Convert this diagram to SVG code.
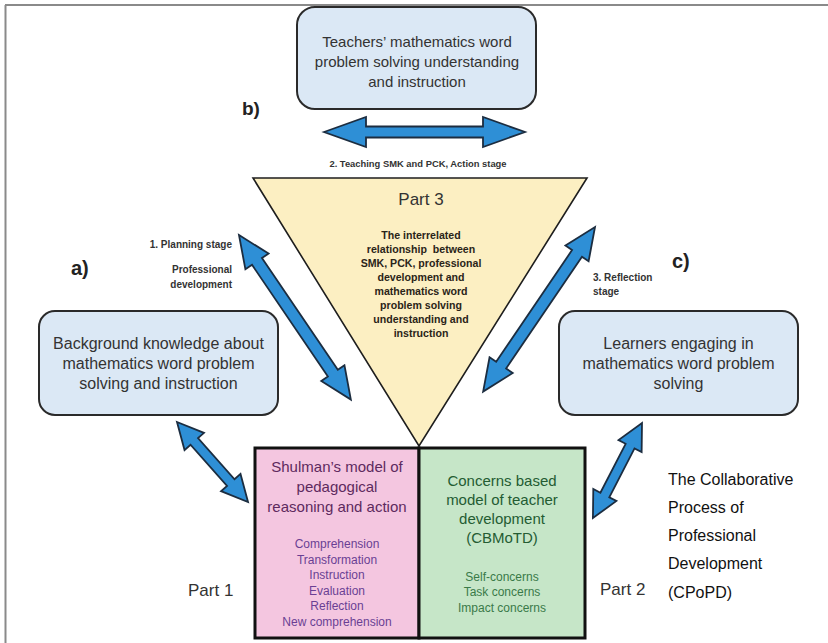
<svg xmlns="http://www.w3.org/2000/svg" width="828" height="643" viewBox="0 0 828 643">
<defs>
<style>
text{font-family:"Liberation Sans",Arial,sans-serif;}
.bx{fill:#dbe8f5;stroke:#2a2a2a;stroke-width:2;}
.bt{font-size:16px;fill:#333;text-anchor:middle;}
.lbl{font-size:10px;font-weight:bold;fill:#333;}
.big{font-size:20px;font-weight:bold;fill:#222;}
.part{font-size:17px;fill:#333;}
.arr{fill:#2e8fd6;stroke:#1c2d40;stroke-width:1.8;stroke-linejoin:miter;}
.tri{font-size:10.6px;font-weight:bold;fill:#2a2418;text-anchor:middle;}
.sh{font-size:15px;fill:#5e2a5e;text-anchor:middle;}
.shl{font-size:12px;fill:#6a3f94;text-anchor:middle;}
.cb{font-size:15px;fill:#245c33;text-anchor:middle;}
.cbl{font-size:12px;fill:#3a7a48;text-anchor:middle;}
.cp{font-size:16px;fill:#111;}
</style>
</defs>
<rect x="0" y="0" width="828" height="643" fill="#fff"/>
<g id="frame" stroke="#8a8a8a" stroke-width="2" fill="none">
<line x1="5" y1="5" x2="828" y2="5"/>
<line x1="5.5" y1="5" x2="5.5" y2="643"/>
</g>

<g id="part3">
<polygon points="253,178 587,178 419,446" fill="#fcefc2" stroke="#1e1e1e" stroke-width="1.6"/>
<text class="part" x="421" y="205" text-anchor="middle">Part 3</text>
<text class="tri" x="421" y="239">The interrelated</text>
<text class="tri" x="421" y="253" xml:space="preserve">relationship  between</text>
<text class="tri" x="421" y="267">SMK, PCK, professional</text>
<text class="tri" x="421" y="281">development and</text>
<text class="tri" x="421" y="295">mathematics word</text>
<text class="tri" x="421" y="309">problem solving</text>
<text class="tri" x="421" y="323">understanding and</text>
<text class="tri" x="421" y="337">instruction</text>
</g>

<g id="teachers">
<rect class="bx" x="297" y="7" width="239" height="102" rx="18"/>
<text class="bt" style="font-size:15px" x="417" y="47">Teachers’ mathematics word</text>
<text class="bt" style="font-size:15px" x="417" y="67">problem solving understanding</text>
<text class="bt" style="font-size:15px" x="417" y="87">and instruction</text>
</g>

<g id="background">
<rect class="bx" x="39" y="311" width="239" height="104" rx="16"/>
<text class="bt" x="158.5" y="349">Background knowledge about</text>
<text class="bt" x="158.5" y="369">mathematics word problem</text>
<text class="bt" x="158.5" y="389">solving and instruction</text>
</g>

<g id="learners">
<rect class="bx" x="559" y="311" width="239" height="104" rx="16"/>
<text class="bt" x="678.5" y="349">Learners engaging in</text>
<text class="bt" x="678.5" y="369">mathematics word problem</text>
<text class="bt" x="678.5" y="389">solving</text>
</g>

<g id="shulman">
<rect x="255" y="448" width="164" height="190" fill="#f4c6e0" stroke="#111" stroke-width="3"/>
<text class="sh" x="337" y="472">Shulman’s model of</text>
<text class="sh" x="337" y="492">pedagogical</text>
<text class="sh" x="337" y="512">reasoning and action</text>
<text class="shl" x="337" y="548">Comprehension</text>
<text class="shl" x="337" y="563.5">Transformation</text>
<text class="shl" x="337" y="579">Instruction</text>
<text class="shl" x="337" y="594.5">Evaluation</text>
<text class="shl" x="337" y="610">Reflection</text>
<text class="shl" x="337" y="625.5">New comprehension</text>
</g>

<g id="concerns">
<rect x="419" y="448" width="166" height="190" fill="#c6e6c8" stroke="#111" stroke-width="3"/>
<text class="cb" x="502" y="486">Concerns based</text>
<text class="cb" x="502" y="505">model of teacher</text>
<text class="cb" x="502" y="524">development</text>
<text class="cb" x="502" y="543">(CBMoTD)</text>
<text class="cbl" x="502" y="581">Self-concerns</text>
<text class="cbl" x="502" y="596">Task concerns</text>
<text class="cbl" x="502" y="612">Impact concerns</text>
</g>

<g id="connectors">
<path class="arr" transform="translate(324,132)" d="M0,0 L42,-15 L42,-5.5 L159,-5.5 L159,-15 L201,0 L159,15 L159,5.5 L42,5.5 L42,15 Z"/>
<path class="arr" transform="translate(239,235) rotate(55.8)" d="M0,0 L32,-14 L32,-6 L167,-6 L167,-14 L199,0 L167,14 L167,6 L32,6 L32,14 Z"/>
<path class="arr" transform="translate(595,227) rotate(124.2)" d="M0,0 L32,-14 L32,-6 L167,-6 L167,-14 L199,0 L167,14 L167,6 L32,6 L32,14 Z"/>
<path class="arr" transform="translate(177,422) rotate(48.4)" d="M0,0 L26,-13 L26,-5 L81,-5 L81,-13 L107,0 L81,13 L81,5 L26,5 L26,13 Z"/>
<path class="arr" transform="translate(642,423) rotate(117.3)" d="M0,0 L26,-13 L26,-5 L81,-5 L81,-13 L107,0 L81,13 L81,5 L26,5 L26,13 Z"/>
</g>

<g id="labels">
<text class="big" x="242" y="115" style="font-size:19px">b)</text>
<text class="big" x="71" y="275">a)</text>
<text class="big" x="672" y="268">c)</text>
<text class="lbl" x="418" y="167" text-anchor="middle" style="font-size:9.4px">2. Teaching SMK and PCK, Action stage</text>
<text class="lbl" x="232" y="248" text-anchor="end">1. Planning stage</text>
<text class="lbl" x="232" y="273" text-anchor="end">Professional</text>
<text class="lbl" x="232" y="288" text-anchor="end">development</text>
<text class="lbl" x="593" y="281">3. Reflection</text>
<text class="lbl" x="593" y="295">stage</text>
<text class="part" x="188" y="596">Part 1</text>
<text class="part" x="600" y="595">Part 2</text>
</g>

<g id="cpopd">
<text class="cp" x="668" y="485">The Collaborative</text>
<text class="cp" x="668" y="513">Process of</text>
<text class="cp" x="668" y="541">Professional</text>
<text class="cp" x="668" y="569">Development</text>
<text class="cp" x="668" y="598">(CPoPD)</text>
</g>
</svg>
